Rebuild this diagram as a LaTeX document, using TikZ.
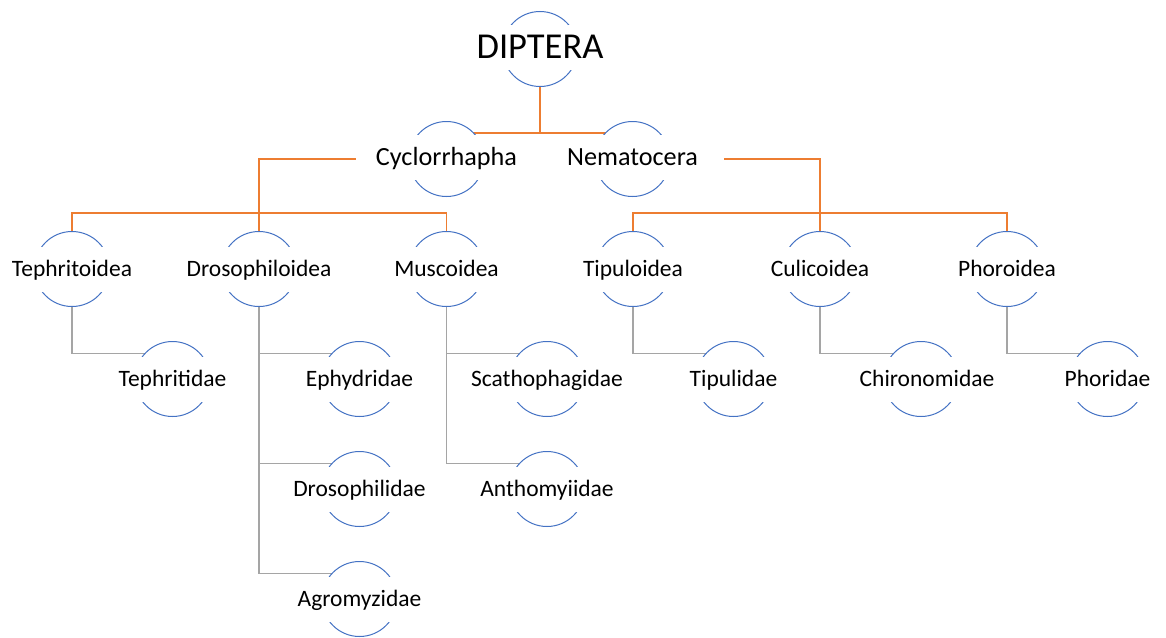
\documentclass[tikz,border=0pt]{standalone}
\usepackage{fontspec}
\setmainfont{Carlito}
\usepackage{xcolor}
\usepackage{tikz}
\usetikzlibrary{backgrounds,calc}

\definecolor{ringblue}{HTML}{4472C4}
\definecolor{lineorange}{HTML}{ED7D31}
\definecolor{linegray}{HTML}{A5A5A5}

\begin{document}
\begin{tikzpicture}[x=1pt, y=-1pt,
        ring/.style={circle, draw=ringblue, line width=1pt, fill=white, minimum size=75pt, inner sep=0pt},
        band/.style={rectangle, fill=white, minimum width=168pt, minimum height=45pt, inner sep=0pt, text depth=0pt},
        topfont/.style={font=\fontsize{36.5}{40}\selectfont, text height=23.5pt, minimum width=182pt},
        midfont/.style={font=\fontsize{26.2}{30}\selectfont, text height=16.9pt, minimum width=182pt},
        lowfont/.style={font=\fontsize{23.5}{27}\selectfont, text height=15.1pt},
        orangeline/.style={draw=lineorange, line width=1.4pt},
        grayline/.style={draw=linegray, line width=1.1pt}]
            \path[use as bounding box] (0,0) rectangle (1166,637);

            % order
            \node[ring] (dip) at (540,49) {};
            \node[band, topfont] (dip-t) at ([yshift=2pt]dip.center) {DIPTERA};

            % suborders
            \node[ring] (cyc) at (446.5,159) {};
            \node[band, midfont] (cyc-t) at ([yshift=2pt]cyc.center) {Cyclorrhapha};
            \node[ring] (nem) at (632.5,159) {};
            \node[band, midfont] (nem-t) at ([yshift=2pt]nem.center) {Nematocera};

            % superfamilies
            \node[ring] (tep) at (72,269) {};
            \node[band, lowfont] (tep-t) at (tep) {Tephritoidea};
            \node[ring] (dro) at (259,269) {};
            \node[band, lowfont] (dro-t) at (dro) {Drosophiloidea};
            \node[ring] (mus) at (446.5,269) {};
            \node[band, lowfont] (mus-t) at (mus) {Muscoidea};
            \node[ring] (tpl) at (633,269) {};
            \node[band, lowfont] (tpl-t) at (tpl) {Tipuloidea};
            \node[ring] (cul) at (820,269) {};
            \node[band, lowfont] (cul-t) at (cul) {Culicoidea};
            \node[ring] (phr) at (1007,269) {};
            \node[band, lowfont] (phr-t) at (phr) {Phoroidea};

            % families
            \node[ring] (tph) at (172.5,379) {};
            \node[band, lowfont] (tph-t) at (tph) {Tephritidae};
            \node[ring] (eph) at (359.5,379) {};
            \node[band, lowfont] (eph-t) at (eph) {Ephydridae};
            \node[ring] (drs) at (359.5,489) {};
            \node[band, lowfont] (drs-t) at (drs) {Drosophilidae};
            \node[ring] (agr) at (359.5,599) {};
            \node[band, lowfont] (agr-t) at (agr) {Agromyzidae};
            \node[ring] (sca) at (547,379) {};
            \node[band, lowfont] (sca-t) at (sca) {Scathophagidae};
            \node[ring] (ant) at (547,489) {};
            \node[band, lowfont] (ant-t) at (ant) {Anthomyiidae};
            \node[ring] (tpd) at (733.5,379) {};
            \node[band, lowfont] (tpd-t) at (tpd) {Tipulidae};
            \node[ring] (chi) at (921,379) {};
            \node[band, lowfont] (chi-t) at ([xshift=6pt]chi.center) {Chironomidae};
            \node[ring] (pho) at (1107.5,379) {};
            \node[band, lowfont] (pho-t) at (pho) {Phoridae};

            \begin{pgfonlayer}{background}
                \draw[orangeline] (dip.center) |- ([yshift=26pt]cyc.center);
                \draw[orangeline] (dip.center) |- ([yshift=26pt]nem.center);
                \draw[orangeline] (cyc.center) -| (dro.center);
                \draw[orangeline] (tep.center) |- ([yshift=56pt]mus.center) -- (mus.center);
                \draw[orangeline] (nem.center) -| (cul.center);
                \draw[orangeline] (tpl.center) |- ([yshift=56pt]phr.center) -- (phr.center);

                \draw[grayline] (tep.center) |- ([yshift=25.5pt]tph.center);
                \draw[grayline] (dro.center) |- ([yshift=25.5pt]eph.center);
                \draw[grayline] (dro.center) |- ([yshift=25.5pt]drs.center);
                \draw[grayline] (dro.center) |- ([yshift=25.5pt]agr.center);
                \draw[grayline] (mus.center) |- ([yshift=25.5pt]sca.center);
                \draw[grayline] (mus.center) |- ([yshift=25.5pt]ant.center);
                \draw[grayline] (tpl.center) |- ([yshift=25.5pt]tpd.center);
                \draw[grayline] (cul.center) |- ([yshift=25.5pt]chi.center);
                \draw[grayline] (phr.center) |- ([yshift=25.5pt]pho.center);
            \end{pgfonlayer}
        \end{tikzpicture}
\end{document}
